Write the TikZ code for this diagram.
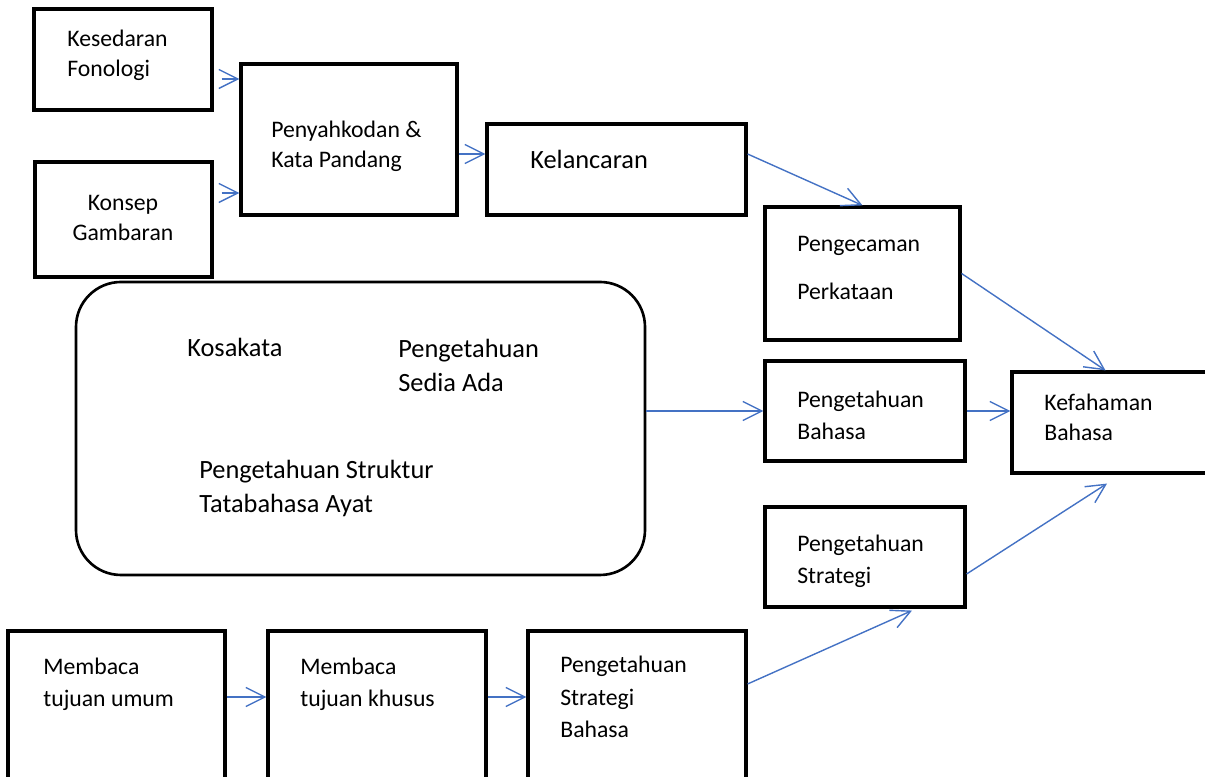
\documentclass[tikz,border=0pt]{standalone}
\usepackage{fontspec}
\setmainfont{Carlito}
\usetikzlibrary{arrows.meta}
\definecolor{linkblue}{RGB}{68,114,196}
\begin{document}
\begin{tikzpicture}[
    box/.style={draw, line width=1.8pt, rectangle, inner sep=0pt},
    txt/.style={inner sep=0pt, align=left, font=\fontsize{13.5}{17.6}\selectfont},
    bigtxt/.style={inner sep=0pt, align=left, font=\fontsize{15}{19.8}\selectfont},
    arr/.style={draw=linkblue, line width=0.8pt, -{Straight Barb[length=3.8mm,width=3.8mm]}}
  ]
  \useasboundingbox (0,0) rectangle (24.1,15.54);
  \clip (0,0) rectangle (24.1,15.54);
  \draw
    (2.46,14.35) node[box, minimum width=3.56cm, minimum height=2.02cm] (kes) {}
    (2.47,11.15) node[box, minimum width=3.54cm, minimum height=2.30cm] (kon) {}
    (6.98,12.75) node[box, minimum width=4.32cm, minimum height=3.02cm] (pen) {}
    (12.33,12.15) node[box, minimum width=5.18cm, minimum height=1.82cm] (kel) {}
    (17.25,10.07) node[box, minimum width=3.90cm, minimum height=2.66cm] (pgc) {}
    (7.21,6.97) node[box, line width=1.5pt, rounded corners=0.9cm, minimum width=11.38cm, minimum height=5.86cm] (rnd) {}
    (17.30,7.32) node[box, minimum width=4.00cm, minimum height=2.00cm] (pgb) {}
    (22.27,7.09) node[box, minimum width=4.06cm, minimum height=2.02cm] (kef) {}
    (17.30,4.40) node[box, minimum width=4.00cm, minimum height=2.00cm] (pgs) {}
    (2.33,1.23) node[box, minimum width=4.34cm, minimum height=3.38cm] (mbu) {}
    (7.54,1.23) node[box, minimum width=4.36cm, minimum height=3.38cm] (mbk) {}
    (12.74,1.23) node[box, minimum width=4.36cm, minimum height=3.38cm] (psb) {};
  \draw
    (1.34,14.00) node[txt, anchor=base west] (t-kes) {Kesedaran\\Fonologi}
    (2.46,10.72) node[txt, anchor=base, align=center] (t-kon) {Konsep\\Gambaran}
    (5.42,12.18) node[txt, anchor=base west] (t-pen) {Penyahkodan \&\\Kata Pandang}
    (10.60,12.16) node[bigtxt, anchor=base west] (t-kel) {Kelancaran}
    (15.94,9.54) node[txt, anchor=base west] (t-pgc) {Pengecaman\\[10pt]Perkataan}
    (3.74,8.40) node[bigtxt, anchor=base west] (t-kos) {Kosakata}
    (7.96,7.70) node[bigtxt, anchor=base west] (t-sed) {Pengetahuan\\Sedia Ada}
    (3.98,5.28) node[bigtxt, anchor=base west] (t-str) {Pengetahuan Struktur\\Tatabahasa Ayat}
    (15.94,6.74) node[txt, anchor=base west] (t-pgb) {Pengetahuan\\[1pt]Bahasa}
    (20.88,6.72) node[txt, anchor=base west] (t-kef) {Kefahaman\\Bahasa}
    (15.94,3.86) node[txt, anchor=base west] (t-pgs) {Pengetahuan\\[1pt]Strategi}
    (0.86,1.40) node[txt, anchor=base west] (t-mbu) {Membaca\\[1pt]tujuan umum}
    (6.00,1.40) node[txt, anchor=base west] (t-mbk) {Membaca\\[1pt]tujuan khusus}
    (11.20,0.78) node[txt, anchor=base west] (t-psb) {Pengetahuan\\[1pt]Strategi\\[1pt]Bahasa};
  \begin{scope}[shorten <=0.16cm]
    \draw[arr] ([yshift=-0.39cm]kes.east) -- ([yshift=-0.39cm]kes.east -| pen.west);
    \draw[arr] ([yshift=0.53cm]kon.east) -- ([yshift=0.53cm]kon.east -| pen.west);
  \end{scope}
  \draw[arr] ([yshift=-0.29cm]pen.east) -- ([yshift=-0.29cm]pen.east -| kel.west);
  \draw[arr] ([yshift=0.31cm]kel.east) -- (pgc.north);
  \draw[arr] (pgc.east) -- ([xshift=-0.16cm]kef.north);
  \draw[arr] (rnd.east |- pgb.west) -- (pgb.west);
  \draw[arr] (pgb.east) -- (pgb.east -| kef.west);
  \draw[arr] ([yshift=-0.34cm]pgs.east) -- ([xshift=-0.13cm,yshift=-0.18cm]kef.south);
  \draw[arr] ([yshift=0.63cm]psb.east) -- ([xshift=0.94cm,yshift=-0.04cm]pgs.south);
  \draw[arr] ([yshift=0.37cm]mbu.east) -- ([yshift=0.37cm]mbu.east -| mbk.west);
  \draw[arr] ([yshift=0.37cm]mbk.east) -- ([yshift=0.37cm]mbk.east -| psb.west);
\end{tikzpicture}
\end{document}
